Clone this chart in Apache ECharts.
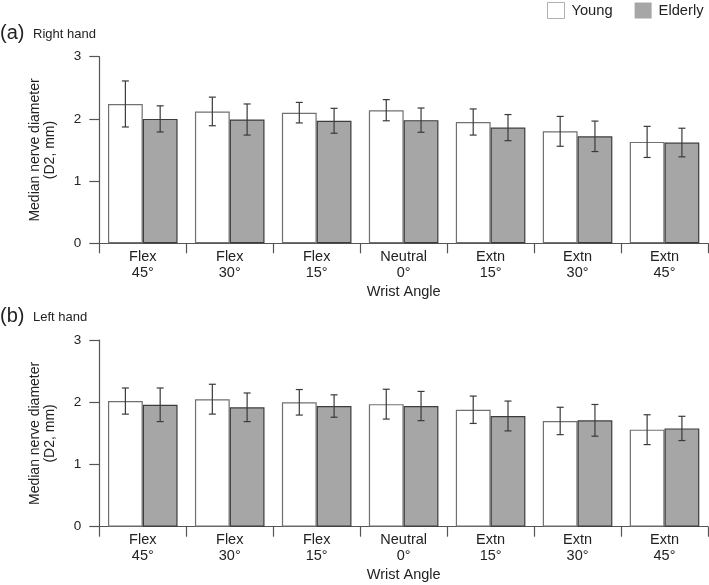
<!DOCTYPE html>
<html>
<head>
<meta charset="utf-8">
<script src="https://cdn.jsdelivr.net/npm/echarts@6/dist/echarts.min.js"></script>
<style>html,body{margin:0;padding:0;background:#fff;}#c{width:709px;height:585px;}</style>
</head>
<body>
<div id="c"></div>
<script>
var categories = ['Flex\n45°', 'Flex\n30°', 'Flex\n15°', 'Neutral\n0°', 'Extn\n15°', 'Extn\n30°', 'Extn\n45°'];
var yTicks = [0, 1, 2, 3];
// Right hand (a)
var rightYoung = [2.24, 2.12, 2.10, 2.14, 1.95, 1.80, 1.63];
var rightYoungErr = [0.37, 0.23, 0.165, 0.17, 0.21, 0.24, 0.25];
var rightElderly = [2.00, 1.99, 1.97, 1.98, 1.86, 1.72, 1.62];
var rightElderlyErr = [0.21, 0.25, 0.20, 0.195, 0.21, 0.245, 0.23];
// Left hand (b)
var leftYoung = [2.02, 2.05, 2.00, 1.97, 1.88, 1.70, 1.56];
var leftYoungErr = [0.21, 0.24, 0.205, 0.24, 0.22, 0.22, 0.24];
var leftElderly = [1.96, 1.92, 1.94, 1.94, 1.78, 1.71, 1.58];
var leftElderlyErr = [0.27, 0.23, 0.18, 0.235, 0.24, 0.255, 0.195];

var FONT = 'Liberation Sans';
var axisColor = '#555';
var textColor = '#222';

function errData(means, errs, side) {
  return means.map(function (m, i) { return [i, m - errs[i], m + errs[i], side]; });
}
function renderErr(params, api) {
  var ci = api.value(0), lo = api.value(1), hi = api.value(2), side = api.value(3);
  var band = api.size([1, 0])[0];
  var pHi = api.coord([ci, hi]);
  var pLo = api.coord([ci, lo]);
  var x = pHi[0] + side * band * 0.2;
  var cap = 3.5;
  var st = { stroke: '#3a3a3a', lineWidth: 1.2 };
  return {
    type: 'group',
    children: [
      { type: 'line', shape: { x1: x, y1: pHi[1], x2: x, y2: pLo[1] }, style: st },
      { type: 'line', shape: { x1: x - cap, y1: pHi[1], x2: x + cap, y2: pHi[1] }, style: st },
      { type: 'line', shape: { x1: x - cap, y1: pLo[1], x2: x + cap, y2: pLo[1] }, style: st }
    ]
  };
}

function xAxis(idx) {
  return {
    type: 'category', gridIndex: idx, data: categories,
    name: 'Wrist Angle', nameLocation: 'middle', nameGap: 41,
    nameTextStyle: { fontFamily: FONT, fontSize: 14.5, color: textColor },
    axisLine: { lineStyle: { color: axisColor, width: 1.2 } },
    axisTick: { show: true, length: 10, lineStyle: { color: axisColor, width: 1.2 } },
    axisLabel: { interval: 0, margin: 5, fontFamily: FONT, fontSize: 14.5, color: textColor, lineHeight: 16.5 }
  };
}
function yAxis(idx) {
  return {
    type: 'value', gridIndex: idx, min: 0, max: 3, interval: 1,
    name: 'Median nerve diameter\n(D2, mm)', nameLocation: 'middle', nameGap: 42,
    nameTextStyle: { fontFamily: FONT, fontSize: 14, color: textColor, lineHeight: 15 },
    axisLine: { show: true, lineStyle: { color: axisColor, width: 1.2 } },
    axisTick: { show: true, length: 10, lineStyle: { color: axisColor, width: 1.2 } },
    axisLabel: { margin: 18, fontFamily: FONT, fontSize: 13.5, color: textColor,
      formatter: function (v) { return yTicks.indexOf(v) >= 0 ? String(v) : ''; } },
    splitLine: { show: false }
  };
}
function barSeries(name, data, idx, young) {
  return {
    name: name, type: 'bar', xAxisIndex: idx, yAxisIndex: idx, data: data,
    barGap: '0%', barCategoryGap: '20%',
    itemStyle: young ? { color: '#ffffff', borderColor: '#707070', borderWidth: 1.2 }
                     : { color: '#a6a6a6', borderColor: '#3c3c3c', borderWidth: 1.2 },
    emphasis: { disabled: true }
  };
}
function errSeries(means, errs, side, idx) {
  return {
    type: 'custom', xAxisIndex: idx, yAxisIndex: idx, renderItem: renderErr,
    data: errData(means, errs, side), z: 10, silent: true
  };
}

var chart = echarts.init(document.getElementById('c'), null, { renderer: 'canvas' });
chart.setOption({
  animation: false,
  backgroundColor: '#fff',
  textStyle: { fontFamily: FONT },
  legend: {
    data: [
      { name: 'Young', itemStyle: { color: '#fff', borderColor: '#b0b0b0', borderWidth: 1 } },
      { name: 'Elderly', itemStyle: { color: '#a6a6a6', borderWidth: 0 } }
    ],
    left: 547, top: 2, width: 170, padding: 0, orient: 'horizontal', icon: 'rect',
    itemWidth: 17, itemHeight: 16, itemGap: 22,
    textStyle: { fontFamily: FONT, fontSize: 14.7, color: textColor, padding: [0, 0, 0, 2] }
  },
  graphic: [
    { type: 'text', left: 0, top: 23, style: { text: '(a)', font: '20px "Liberation Sans"', fill: textColor } },
    { type: 'text', left: 33, top: 28, style: { text: 'Right hand', font: '13px "Liberation Sans"', fill: textColor } },
    { type: 'text', left: 0, top: 306, style: { text: '(b)', font: '20px "Liberation Sans"', fill: textColor } },
    { type: 'text', left: 33, top: 311, style: { text: 'Left hand', font: '13px "Liberation Sans"', fill: textColor } }
  ],
  grid: [
    { left: 99.3, right: 1, top: 56.7, height: 186.6, outerBoundsMode: 'none' },
    { left: 99.3, right: 1, top: 340.1, height: 186.6, outerBoundsMode: 'none' }
  ],
  xAxis: [xAxis(0), xAxis(1)],
  yAxis: [yAxis(0), yAxis(1)],
  series: [
    barSeries('Young', rightYoung, 0, true),
    barSeries('Elderly', rightElderly, 0, false),
    errSeries(rightYoung, rightYoungErr, -1, 0),
    errSeries(rightElderly, rightElderlyErr, 1, 0),
    barSeries('Young', leftYoung, 1, true),
    barSeries('Elderly', leftElderly, 1, false),
    errSeries(leftYoung, leftYoungErr, -1, 1),
    errSeries(leftElderly, leftElderlyErr, 1, 1)
  ]
});
</script>
</body>
</html>
